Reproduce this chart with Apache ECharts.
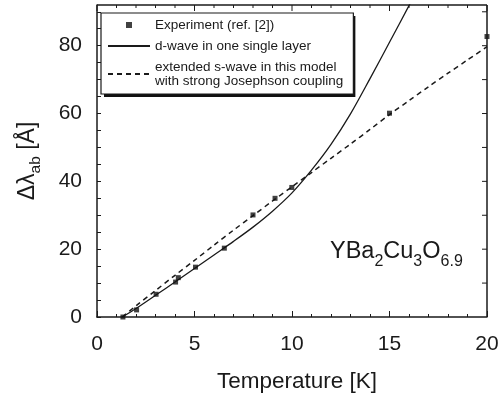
<!DOCTYPE html>
<html>
<head>
<meta charset="utf-8">
<script src="https://cdn.jsdelivr.net/npm/echarts@6/dist/echarts.min.js"></script>
<style>html,body{margin:0;padding:0;background:#fff}#c{width:499px;height:400px}</style>
</head>
<body>
<div id="c"></div>
<script>
// ---- data ----
const expName = 'Experiment (ref. [2])';
const dName = 'd-wave in one single layer';
const sName = 'extended s-wave in this model\nwith strong Josephson coupling';

const expT = [1.33, 2.03, 3.03, 4.03, 4.17, 5.05, 6.53, 8.0, 9.13, 9.99, 15.0, 20.0];
const expY = [0.0, 2.1, 6.7, 10.3, 11.6, 14.7, 20.3, 30.1, 35.0, 38.2, 60.1, 82.7];

const dwaveT = [1.3, 2, 3, 4, 5, 6, 7, 8, 9, 10, 11, 12, 13, 14, 15, 16, 16.1];
const dwaveY = [0, 2.5, 6.4, 10.3, 14.3, 18.3, 22.3, 26.5, 31.2, 36.6, 43.3, 50.9, 59.9, 70.3, 81.0, 91.8, 93.0];

const swaveT = [1.3, 2, 3, 4, 5, 6, 7, 8, 9, 10, 11, 12, 13, 14, 15, 16, 17, 18, 19, 20];
const swaveY = [0, 3.3, 7.8, 12.3, 16.7, 21.2, 25.6, 29.9, 34.2, 38.4, 42.6, 46.8, 51.0, 55.3, 59.7, 63.8, 67.9, 71.9, 75.8, 79.7];

const xTicks = [0, 5, 10, 15, 20];
const yTickLabels = [0, 20, 40, 60, 80];
const topTickValues = [0,1,2,3,4,5,6,7,8,9,10,11,12,13,14,15,16,17,18,19,20];
const rightTickValues = [10, 20, 30, 40, 50, 60, 70, 80, 90];

// ---- chart ----
const FF = '"Liberation Sans", Arial, Helvetica, sans-serif';
const INK = '#1a1a1a';
const zip = (a, b) => a.map((v, i) => [v, b[i]]);

// legend box geometry (for its drop shadow)
const LG = { left: 101, top: 13, pad: [5, 10, 6, 6], iw: 42, ih: 6, gap: 7, fs: 13.5, lh: 14 };
const mctx = document.createElement('canvas').getContext('2d');
mctx.font = LG.fs + 'px ' + FF;
const legendLines = [expName, dName].concat(sName.split('\n'));
const maxTextW = Math.max.apply(null, legendLines.map(s => mctx.measureText(s).width));
const legendW = LG.pad[3] + LG.iw + 5 + maxTextW + LG.pad[1];
const legendH = LG.pad[0] + LG.lh + LG.gap + LG.lh + LG.gap + 2 * LG.lh + LG.pad[2];

const chart = echarts.init(document.getElementById('c'), null, { renderer: 'canvas' });
const mkLine = () => ({ show: true, onZero: false, lineStyle: { color: INK, width: 1.5 } });
const mkTick = (len) => ({ show: true, inside: true, length: len, lineStyle: { color: INK, width: 1 } });
const mkMinor = () => ({ show: true, splitNumber: 5, length: 3, lineStyle: { color: INK, width: 1 } });

const baseGraphic = [
  {
    id: 'lgShadow', type: 'rect', z: 9, silent: true,
    shape: { x: LG.left + 3, y: LG.top + 3, width: legendW, height: legendH },
    style: { fill: '#111' }
  },
  {
    id: 'formula', type: 'text', left: 330, top: 240, z: 10,
    style: {
      text: '{m|YBa}{s|2}{m|Cu}{s|3}{m|O}{s|6.9}',
      rich: {
        m: { fontSize: 23.5, lineHeight: 35, fill: INK, fontFamily: FF },
        s: { fontSize: 16, lineHeight: 15, verticalAlign: 'bottom', fill: INK, fontFamily: FF }
      }
    }
  }
];

chart.setOption({
  animation: false,
  backgroundColor: '#fff',
  textStyle: { fontFamily: FF },
  grid: { left: 97, right: 12, top: 5, bottom: 83, containLabel: false, outerBoundsMode: 'none' },
  xAxis: [
    {
      type: 'value', min: 0, max: 20, interval: 5, position: 'bottom',
      axisLine: mkLine(), axisTick: mkTick(6), minorTick: mkMinor(),
      splitLine: { show: false },
      axisLabel: { fontSize: 21, color: INK, margin: 17, fontFamily: FF,
        formatter: v => xTicks.includes(v) ? String(v) : '' },
      name: 'Temperature [K]', nameLocation: 'middle', nameGap: 53,
      nameTextStyle: { fontSize: 22.5, color: INK, fontFamily: FF, padding: [0, 0, 0, 10] }
    }
  ],
  yAxis: [
    {
      type: 'value', min: 0, max: 92, interval: 5, position: 'left',
      axisLine: mkLine(), axisTick: mkTick(4),
      splitLine: { show: false },
      axisLabel: { fontSize: 21, color: INK, margin: 15, fontFamily: FF, showMaxLabel: false,
        formatter: v => yTickLabels.includes(v) ? String(v) : '' },
      name: '{a|Δλ}{s|ab}{a| [Å]}', nameLocation: 'middle', nameGap: 53,
      nameTextStyle: {
        color: INK, fontFamily: FF,
        rich: {
          a: { fontSize: 23, lineHeight: 32, color: INK, fontFamily: FF },
          s: { fontSize: 15.5, lineHeight: 15, verticalAlign: 'bottom', color: INK, fontFamily: FF }
        }
      }
    }
  ],
  legend: {
    orient: 'vertical', left: LG.left, top: LG.top, z: 10,
    padding: LG.pad,
    itemWidth: LG.iw, itemHeight: LG.ih, itemGap: LG.gap,
    backgroundColor: '#fff', borderColor: INK, borderWidth: 1.2,
    selectedMode: false,
    textStyle: { fontSize: LG.fs, lineHeight: LG.lh, color: INK, fontFamily: FF },
    data: [
      { name: expName, icon: 'path://M0 0h1v1h-1z' },
      { name: dName, itemStyle: { opacity: 0 } },
      { name: sName, itemStyle: { opacity: 0 } }
    ]
  },
  graphic: { elements: baseGraphic },
  series: [
    {
      name: dName, type: 'line', smooth: 0.3, symbol: 'none', showSymbol: false,
      lineStyle: { color: INK, width: 1.3 }, itemStyle: { color: INK },
      data: zip(dwaveT, dwaveY), z: 2
    },
    {
      name: sName, type: 'line', smooth: 0.3, symbol: 'none', showSymbol: false,
      lineStyle: { color: INK, width: 1.5, type: [5, 4] }, itemStyle: { color: INK },
      data: zip(swaveT, swaveY), z: 2
    },
    {
      name: expName, type: 'scatter', symbol: 'rect', symbolSize: 5,
      itemStyle: { color: '#111' },
      data: zip(expT, expY), z: 5
    }
  ]
});

// Frame (top and right edges with inward ticks), positioned through the chart's own scales
const px = v => chart.convertToPixel({ xAxisIndex: 0 }, v);
const py = v => chart.convertToPixel({ yAxisIndex: 0 }, v);
const xL = px(0), xR = px(20), yB = py(0), yT = py(92);
const frame = [
  { id: 'frameTop', type: 'line', z: 100, silent: true,
    shape: { x1: xL, y1: yT, x2: xR, y2: yT }, style: { stroke: INK, lineWidth: 1.5 } },
  { id: 'frameRight', type: 'line', z: 100, silent: true,
    shape: { x1: xR, y1: yT, x2: xR, y2: yB }, style: { stroke: INK, lineWidth: 1.5 } }
];
topTickValues.forEach((t, i) => {
  const x = px(t);
  frame.push({ id: 'tt' + i, type: 'line', z: 100, silent: true,
    shape: { x1: x, y1: yT, x2: x, y2: yT + (t % 5 === 0 ? 6 : 3) },
    style: { stroke: INK, lineWidth: 1 } });
});
rightTickValues.forEach((v, i) => {
  const y = py(v);
  frame.push({ id: 'rt' + i, type: 'line', z: 100, silent: true,
    shape: { x1: xR, y1: y, x2: xR - 5, y2: y },
    style: { stroke: INK, lineWidth: 1 } });
});
chart.setOption({ graphic: { elements: baseGraphic.concat(frame) } });
</script>
</body>
</html>
